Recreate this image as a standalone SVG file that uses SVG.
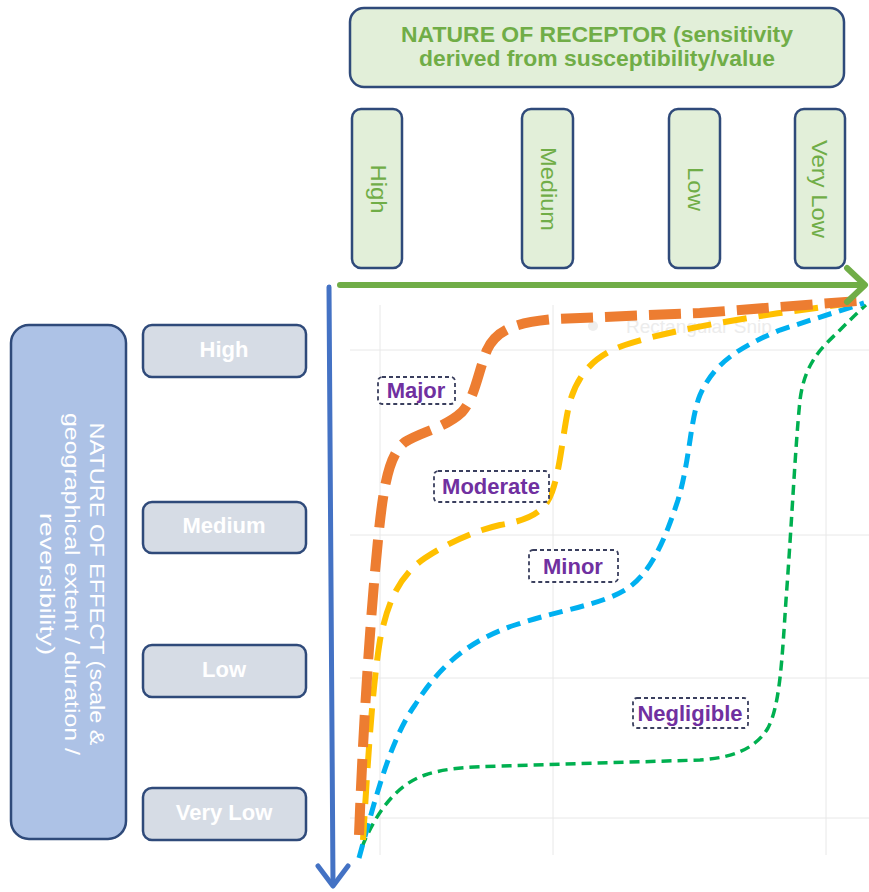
<svg xmlns="http://www.w3.org/2000/svg" width="869" height="892" viewBox="0 0 869 892">
<style>
.topbox{fill:#e2efd9;stroke:#2f4a7a;stroke-width:2.5}
.graybox{fill:#d6dce5;stroke:#2f4a7a;stroke-width:2.5}
.bigbox{fill:#adc2e6;stroke:#2f4a7a;stroke-width:2.5}
.gt{font-family:"Liberation Sans",Arial,sans-serif;fill:#70ad47}
.wt{font-family:"Liberation Sans",Arial,sans-serif;fill:#ffffff}
.lab{fill:#ffffff;stroke:#3a3f5e;stroke-width:1.8;stroke-dasharray:4 3}
.lt{font-family:"Liberation Sans",Arial,sans-serif;font-weight:bold;font-size:22px;fill:#7030a0;text-anchor:middle}
.grid{stroke:#e8e8e8;stroke-width:1;fill:none}
.curve{fill:none;stroke-linecap:butt}
</style>
<rect width="869" height="892" fill="#ffffff"/>

<g id="grid">
<line class="grid" x1="380" y1="305" x2="380" y2="855"/>
<line class="grid" x1="553" y1="305" x2="553" y2="855"/>
<line class="grid" x1="826" y1="305" x2="826" y2="855"/>
<line class="grid" x1="350" y1="350" x2="869" y2="350"/>
<line class="grid" x1="350" y1="535" x2="869" y2="535"/>
<line class="grid" x1="350" y1="678" x2="869" y2="678"/>
<line class="grid" x1="350" y1="818" x2="869" y2="818"/>
</g>

<g id="ghost">
<circle cx="593" cy="326" r="5" fill="#eeeeee"/>
<text x="626" y="333" font-family="Liberation Sans, Arial, sans-serif" font-size="19" fill="#ececec">Rectangular Snip</text>
</g>

<g id="receptor-title">
<rect class="topbox" x="350" y="8" width="494" height="79" rx="14"/>
<text class="gt" x="597" y="42" font-size="22" font-weight="bold" text-anchor="middle" textLength="392" lengthAdjust="spacingAndGlyphs">NATURE OF RECEPTOR (sensitivity</text>
<text class="gt" x="597" y="66" font-size="22" font-weight="bold" text-anchor="middle" textLength="356" lengthAdjust="spacingAndGlyphs">derived from susceptibility/value</text>
</g>

<g id="rec-high">
<rect class="topbox" x="352" y="109" width="50" height="159" rx="9"/>
<text class="gt" transform="translate(371,189) rotate(90)" font-size="22" text-anchor="middle" textLength="49" lengthAdjust="spacingAndGlyphs">High</text>
</g>
<g id="rec-medium">
<rect class="topbox" x="522" y="109" width="51" height="159" rx="9"/>
<text class="gt" transform="translate(541,189) rotate(90)" font-size="22" text-anchor="middle" textLength="84" lengthAdjust="spacingAndGlyphs">Medium</text>
</g>
<g id="rec-low">
<rect class="topbox" x="669" y="109" width="51" height="159" rx="9"/>
<text class="gt" transform="translate(688,189) rotate(90)" font-size="22" text-anchor="middle" textLength="44" lengthAdjust="spacingAndGlyphs">Low</text>
</g>
<g id="rec-verylow">
<rect class="topbox" x="795" y="109" width="50" height="159" rx="9"/>
<text class="gt" transform="translate(812,189) rotate(90)" font-size="22" text-anchor="middle" textLength="98" lengthAdjust="spacingAndGlyphs">Very Low</text>
</g>

<g id="effect-title">
<rect class="bigbox" x="11" y="325" width="115" height="514" rx="18"/>
<text class="wt" transform="translate(90,584) rotate(90)" font-size="21" text-anchor="middle" textLength="323" lengthAdjust="spacingAndGlyphs">NATURE OF EFFECT (scale &amp;</text>
<text class="wt" transform="translate(65,584) rotate(90)" font-size="21" text-anchor="middle" textLength="342" lengthAdjust="spacingAndGlyphs">geographical extent / duration /</text>
<text class="wt" transform="translate(40,584) rotate(90)" font-size="21" text-anchor="middle" textLength="142" lengthAdjust="spacingAndGlyphs">reversibility)</text>
</g>

<g id="eff-high">
<rect class="graybox" x="143" y="325" width="163" height="52" rx="9"/>
<text class="wt" x="224" y="357" font-size="22" font-weight="bold" text-anchor="middle">High</text>
</g>
<g id="eff-medium">
<rect class="graybox" x="143" y="502" width="163" height="51" rx="9"/>
<text class="wt" x="224" y="533" font-size="22" font-weight="bold" text-anchor="middle">Medium</text>
</g>
<g id="eff-low">
<rect class="graybox" x="143" y="645" width="163" height="52" rx="9"/>
<text class="wt" x="224" y="677" font-size="22" font-weight="bold" text-anchor="middle">Low</text>
</g>
<g id="eff-verylow">
<rect class="graybox" x="143" y="788" width="163" height="52" rx="9"/>
<text class="wt" x="224" y="820" font-size="22" font-weight="bold" text-anchor="middle">Very Low</text>
</g>

<g id="connectors">
<path class="curve" stroke="#00b050" stroke-width="3.5" stroke-dasharray="10 6" d="M362,847 C375,815 395,785 425,775 C445,768 470,767 500,766 L700,760 C730,758 755,750 768,728 C780,705 782,660 786,600 C792,520 795,450 800,400 C805,360 825,345 840,330 C852,318 860,310 866,305"/>
<path class="curve" stroke="#00b0f0" stroke-width="5" stroke-dasharray="14 8" d="M359,858 C375,800 390,740 415,705 C440,665 470,640 515,625 C560,610 600,605 625,590 C650,575 665,540 678,500 C690,460 690,420 700,395 C715,360 745,345 780,330 L864,303"/>
<path class="curve" stroke="#ffc000" stroke-width="6" stroke-dasharray="24 12" d="M363,840 C368,760 372,690 380,640 C388,600 400,575 425,558 C445,545 470,532 500,525 C530,520 545,512 552,492 C560,470 562,440 568,410 C575,375 595,355 625,345 C660,333 720,322 780,313 L860,302"/>
<path class="curve" stroke="#ed7d31" stroke-width="10" stroke-dasharray="32 12" d="M359,835 C363,730 370,620 378,540 C383,490 388,455 405,442 C420,432 445,428 462,412 C475,398 478,372 487,350 C497,328 520,322 555,319 L700,313 L858,301"/>
<g id="x-axis" stroke="#70ad47" stroke-width="6" fill="none" stroke-linecap="round" stroke-linejoin="round">
<line x1="340" y1="285" x2="864" y2="285"/>
<polyline points="847,268 865,285 847,302"/>
</g>
<g id="y-axis" stroke="#4472c4" stroke-width="5" fill="none" stroke-linecap="round" stroke-linejoin="round">
<line x1="329" y1="287" x2="333" y2="884"/>
<polyline points="318,866 333,886 348,866"/>
</g>
</g>

<g id="lab-major">
<rect class="lab" x="378" y="377" width="77" height="27" rx="4"/>
<text class="lt" x="416" y="398">Major</text>
</g>
<g id="lab-moderate">
<rect class="lab" x="434" y="471" width="115" height="31" rx="4"/>
<text class="lt" x="491" y="494">Moderate</text>
</g>
<g id="lab-minor">
<rect class="lab" x="529" y="550" width="89" height="32" rx="4"/>
<text class="lt" x="573" y="574">Minor</text>
</g>
<g id="lab-negligible">
<rect class="lab" x="633" y="698" width="115" height="30" rx="4"/>
<text class="lt" x="690" y="721">Negligible</text>
</g>
</svg>
